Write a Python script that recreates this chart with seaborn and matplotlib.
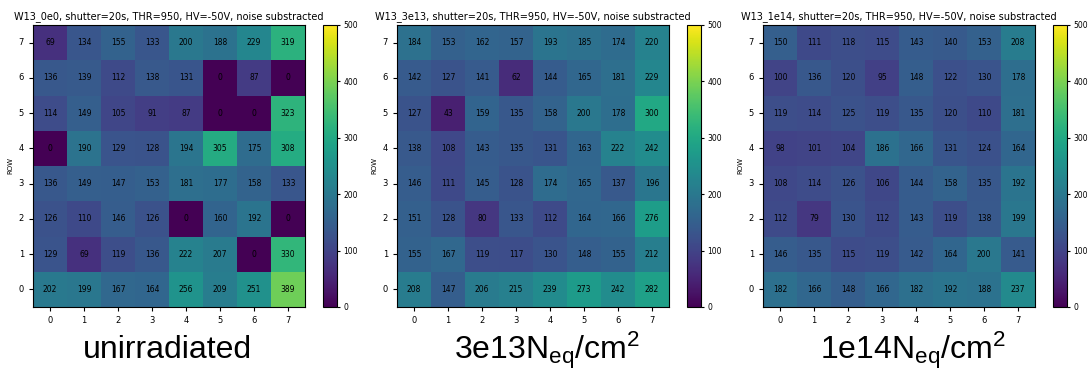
import numpy as np
import pandas as pd
import seaborn as sns
import matplotlib.pyplot as plt

plt.rcParams['mathtext.default'] = 'regular'

# pixel counts per pad, rows listed top (ROW 7) to bottom (ROW 0)
rows = [7, 6, 5, 4, 3, 2, 1, 0]
cols = [0, 1, 2, 3, 4, 5, 6, 7]

unirr = [
    [69, 134, 155, 133, 200, 188, 229, 319],
    [136, 139, 112, 138, 131, 0, 87, 0],
    [114, 149, 105, 91, 87, 0, 0, 323],
    [0, 190, 129, 128, 194, 305, 175, 308],
    [136, 149, 147, 153, 181, 177, 158, 133],
    [126, 110, 146, 126, 0, 160, 192, 0],
    [129, 69, 119, 136, 222, 207, 0, 330],
    [202, 199, 167, 164, 256, 209, 251, 389],
]
irr_3e13 = [
    [184, 153, 162, 157, 193, 185, 174, 220],
    [142, 127, 141, 62, 144, 165, 181, 229],
    [127, 43, 159, 135, 158, 200, 178, 300],
    [138, 108, 143, 135, 131, 163, 222, 242],
    [146, 111, 145, 128, 174, 165, 137, 196],
    [151, 128, 80, 133, 112, 164, 166, 276],
    [155, 167, 119, 117, 130, 148, 155, 212],
    [208, 147, 206, 215, 239, 273, 242, 282],
]
irr_1e14 = [
    [150, 111, 118, 115, 143, 140, 153, 208],
    [100, 136, 120, 95, 148, 122, 130, 178],
    [119, 114, 125, 119, 135, 120, 110, 181],
    [98, 101, 104, 186, 166, 131, 124, 164],
    [108, 114, 126, 106, 144, 158, 135, 192],
    [112, 79, 130, 112, 143, 119, 138, 199],
    [146, 135, 115, 119, 142, 164, 200, 141],
    [182, 166, 148, 166, 182, 192, 188, 237],
]

titles = [
    "W13_0e0, shutter=20s, THR=950, HV=-50V, noise substracted",
    "W13_3e13, shutter=20s, THR=950, HV=-50V, noise substracted",
    "W13_1e14, shutter=20s, THR=950, HV=-50V, noise substracted",
]
labels = ["unirradiated", "3e13N$_{eq}$/cm$^2$", "1e14N$_{eq}$/cm$^2$"]
label_x = [167, 547, 913]

W, H = 1089, 371
fig = plt.figure(figsize=(W / 100, H / 100), dpi=100)

lefts = [33, 397, 763]
for data, title, left, lab, lx in zip([unirr, irr_3e13, irr_1e14], titles, lefts, labels, label_x):
    df = pd.DataFrame(data, index=rows, columns=cols)
    ax = fig.add_axes([left / W, 64 / H, 272 / W, 282 / H])
    cax = fig.add_axes([(left + 290) / W, 64 / H, 14 / W, 282 / H])
    sns.heatmap(df, ax=ax, cbar_ax=cax, cmap="viridis", vmin=0, vmax=500,
                annot=True, fmt="d", annot_kws={"fontsize": 5.5, "color": "black"},
                cbar_kws={"ticks": [0, 100, 200, 300, 400, 500]})
    for s in ax.spines.values():
        s.set_visible(True)
        s.set_linewidth(0.8)
    cb = ax.collections[0].colorbar
    cb.outline.set_visible(True)
    cb.outline.set_linewidth(0.8)
    cax.tick_params(labelsize=5.5, length=2.5, pad=2)
    ax.tick_params(labelsize=6, length=3)
    ax.set_yticklabels(rows, rotation=0)
    ax.set_xticklabels(cols, rotation=0)
    ax.set_ylabel("ROW", fontsize=5)
    ax.set_title(title, fontsize=7, pad=4)
    fig.text(lx / W, (H - 350) / H, lab, fontsize=23, family="Liberation Sans",
             ha="center", va="center")

fig.savefig("out.png", dpi=100)
